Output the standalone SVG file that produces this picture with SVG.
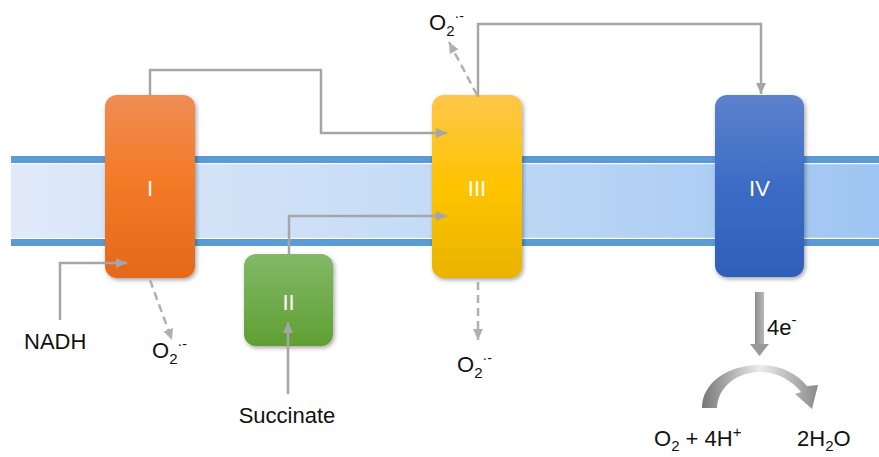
<svg xmlns="http://www.w3.org/2000/svg" width="879" height="457" viewBox="0 0 879 457">
  <defs>
    <style>
      .lbl { font-family: "Liberation Sans", Arial, sans-serif; font-size: 22px; fill: #111; }
      .roman { font-family: "Liberation Sans", Arial, sans-serif; font-size: 22px; fill: #ffffff; text-anchor: middle; }
      .conn { fill: none; stroke: #a6a6a6; stroke-width: 2.5; }
      .dash { fill: none; stroke: #b0b0b0; stroke-width: 2.5; stroke-dasharray: 8 5; }
      .band { fill: #5b9bd5; }
    </style>
    <linearGradient id="membrane" x1="0" y1="0" x2="1" y2="0">
      <stop offset="0" stop-color="#e0eaf9"/>
      <stop offset="0.5" stop-color="#c3dbf6"/>
      <stop offset="1" stop-color="#9fc5f2"/>
    </linearGradient>
    <linearGradient id="gI" x1="0" y1="0" x2="0" y2="1">
      <stop offset="0" stop-color="#ef8d55"/>
      <stop offset="0.45" stop-color="#f47b28"/>
      <stop offset="1" stop-color="#e4691b"/>
    </linearGradient>
    <linearGradient id="gII" x1="0" y1="0" x2="0" y2="1">
      <stop offset="0" stop-color="#83b967"/>
      <stop offset="1" stop-color="#5f9f32"/>
    </linearGradient>
    <linearGradient id="gIII" x1="0" y1="0" x2="0" y2="1">
      <stop offset="0" stop-color="#fec64a"/>
      <stop offset="0.5" stop-color="#fec400"/>
      <stop offset="1" stop-color="#e9b300"/>
    </linearGradient>
    <linearGradient id="gIV" x1="0" y1="0" x2="0" y2="1">
      <stop offset="0" stop-color="#5d82cc"/>
      <stop offset="0.5" stop-color="#3c6cc6"/>
      <stop offset="1" stop-color="#2e60b8"/>
    </linearGradient>
    <linearGradient id="gE" x1="0" y1="0" x2="1" y2="0">
      <stop offset="0" stop-color="#8e8e8e"/>
      <stop offset="1" stop-color="#b8b8b8"/>
    </linearGradient>
    <linearGradient id="gCurve" x1="0" y1="0" x2="1" y2="0">
      <stop offset="0" stop-color="#777777"/>
      <stop offset="0.5" stop-color="#ececec"/>
      <stop offset="1" stop-color="#8a8a8a"/>
    </linearGradient>
    <filter id="shadow" x="-20%" y="-20%" width="140%" height="140%">
      <feDropShadow dx="1.5" dy="2" stdDeviation="2" flood-color="#000" flood-opacity="0.35"/>
    </filter>
    <marker id="head" markerUnits="userSpaceOnUse" markerWidth="12" markerHeight="10" refX="11" refY="5" orient="auto">
      <path d="M0,0 L11,5 L0,10 z" fill="#a6a6a6"/>
    </marker>
    <marker id="headDash" markerUnits="userSpaceOnUse" markerWidth="12" markerHeight="10" refX="11" refY="5" orient="auto">
      <path d="M0,0 L11,5 L0,10 z" fill="#b0b0b0"/>
    </marker>
  </defs>

  <!-- membrane -->
  <g id="membrane-layer">
    <rect x="11" y="163" width="868" height="76" fill="url(#membrane)"/>
    <rect class="band" x="11" y="156" width="868" height="7"/>
    <rect x="11" y="163" width="868" height="1.2" fill="#ffffff"/>
    <rect x="11" y="237.8" width="868" height="1.2" fill="#ffffff"/>
    <rect class="band" x="11" y="239" width="868" height="7"/>
  </g>

  <!-- complexes -->
  <g id="complex-I">
    <rect x="105" y="95" width="90" height="183" rx="12" fill="url(#gI)" filter="url(#shadow)"/>
    <text class="roman" x="150" y="196">I</text>
  </g>
  <g id="complex-II">
    <rect x="244" y="254" width="89" height="92" rx="12" fill="url(#gII)" filter="url(#shadow)"/>
    <text class="roman" x="288.5" y="310">II</text>
  </g>
  <g id="complex-III">
    <rect x="432" y="95" width="90" height="183" rx="12" fill="url(#gIII)" filter="url(#shadow)"/>
    <text class="roman" x="477" y="196">III</text>
  </g>
  <g id="complex-IV">
    <rect x="715" y="95" width="89" height="182" rx="12" fill="url(#gIV)" filter="url(#shadow)"/>
    <text class="roman" x="759.5" y="196">IV</text>
  </g>

  <!-- connectors -->
  <g id="connectors">
    <path class="conn" d="M150,95 V70 H321 V133 H447" marker-end="url(#head)"/>
    <path class="conn" d="M289,254 V216 H447" marker-end="url(#head)"/>
    <path class="conn" d="M478,97 V24 H761 V94" marker-end="url(#head)"/>
    <path class="conn" d="M60,320 V263 H127" marker-end="url(#head)"/>
    <path class="conn" d="M288,394 V322" marker-end="url(#head)"/>
    <path class="dash" d="M150,280 L172,340" marker-end="url(#headDash)"/>
    <path class="dash" d="M478,282 V340" marker-end="url(#headDash)"/>
    <path class="dash" d="M477,95 L449,42" marker-end="url(#headDash)"/>
    <!-- electron transfer to oxygen -->
    <rect x="755" y="292" width="9" height="52" fill="url(#gE)"/>
    <path d="M750,344 L769,344 L759.5,356 z" fill="#999999"/>
    <path d="M702,408 C702,384 726,365 760,365 C782,365 798,375 807,386 L818,385 L812,409 L795,394 L801,392 C792,381 778,372 760,372 C738,372 718,386 717,408 z" fill="url(#gCurve)"/>
  </g>

  <!-- labels -->
  <g id="labels">
    <text class="lbl" x="24" y="349">NADH</text>
    <text class="lbl" x="287" y="423" text-anchor="middle">Succinate</text>
    <text class="lbl" x="152" y="358">O<tspan font-size="15" dy="6">2</tspan><tspan font-size="14" dy="-15">·-</tspan></text>
    <text class="lbl" x="429" y="30">O<tspan font-size="15" dy="6">2</tspan><tspan font-size="14" dy="-15">·-</tspan></text>
    <text class="lbl" x="457" y="372">O<tspan font-size="15" dy="6">2</tspan><tspan font-size="14" dy="-15">·-</tspan></text>
    <text class="lbl" x="767" y="335">4e<tspan font-size="15" dy="-10">-</tspan></text>
    <text class="lbl" x="654" y="446">O<tspan font-size="15" dy="5">2</tspan><tspan dy="-5"> + 4H</tspan><tspan font-size="15" dy="-9">+</tspan></text>
    <text class="lbl" x="797" y="446">2H<tspan font-size="15" dy="5">2</tspan><tspan dy="-5">O</tspan></text>
  </g>
</svg>
